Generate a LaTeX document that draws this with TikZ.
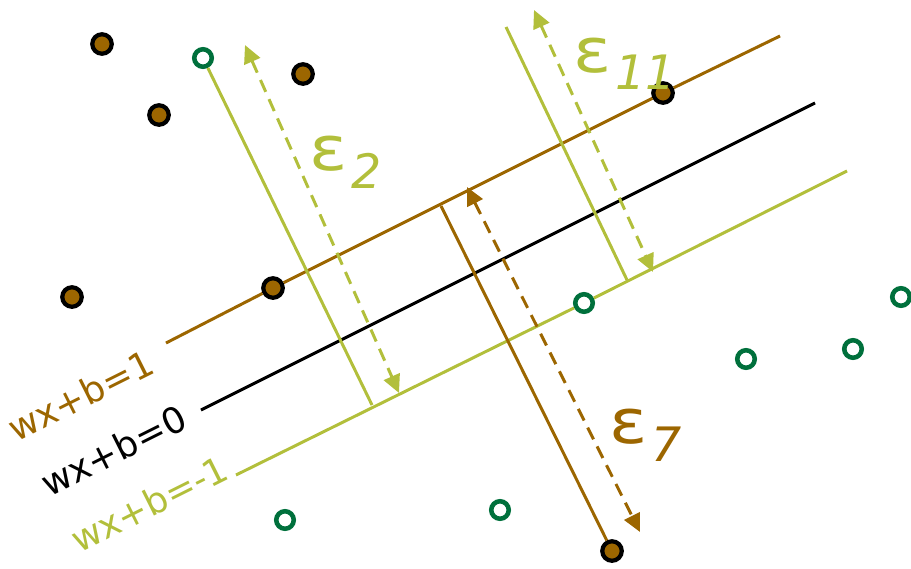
\documentclass[tikz,border=0pt]{standalone}
\usepackage{fontspec}
\newfontfamily\svmfont{DejaVu Sans}
\usepackage{xcolor}
\usetikzlibrary{arrows.meta, positioning}
\definecolor{posbrown}{RGB}{156,102,0}
\definecolor{neglime}{RGB}{178,191,59}
\definecolor{negdark}{RGB}{0,112,60}
\tikzset{
  posdot/.style={
    circle, draw=black, fill=posbrown,
    line width=2.4pt, minimum size=0.39cm, inner sep=0pt
  },
  negdot/.style={
    circle, draw=negdark, fill=white,
    line width=2.6pt, minimum size=0.35cm, inner sep=0pt
  },
  hyper/.style={line width=1.7pt},
  slack/.style={
    {Triangle[length=0.36cm,width=0.34cm]}-{Triangle[length=0.36cm,width=0.34cm]},
    line width=1.7pt, dash pattern=on 0.26cm off 0.16cm
  },
  hyplabel/.style={
    font=\svmfont\fontsize{20.5}{24}\selectfont,
    rotate=26.57, inner sep=0pt, anchor=base west
  },
  epslabel/.style={
    font=\svmfont\fontsize{35}{40}\selectfont,
    inner sep=0pt, anchor=base west
  },
}
\newcommand{\epssub}[1]{\scalebox{1.15}[1]{ε}\kern0.07cm\raisebox{-0.36cm}{\fontsize{27}{32}\selectfont\itshape #1}}

\begin{document}
\begin{tikzpicture}[x=0.02cm, y=-0.02cm]
  \useasboundingbox (0,0) rectangle (911,568);
  % points of the two classes
  \node[posdot] (p1) at (102,44) {};
  \node[posdot] (p2) at (159,115) {};
  \node[posdot] (p3) at (303,74) {};
  \node[posdot] (p4) at (72,297) {};
  \node[posdot] (p5) at (273,288) {};
  \node[posdot] (p6) at (663,93) {};
  \node[posdot] (p7) at (612,551) {};
  \node[negdot] (n1) at (203,58) {};
  \node[negdot] (n2) at (584,303) {};
  \node[negdot] (n3) at (746,359) {};
  \node[negdot] (n4) at (853,349) {};
  \node[negdot] (n5) at (901,297) {};
  \node[negdot] (n6) at (285,520) {};
  \node[negdot] (n7) at (500,510) {};
  % ends of the hyperplanes
  \coordinate (bs) at (166,343);
  \coordinate (be) at (780,36);
  \coordinate (zs) at (201,410);
  \coordinate (ze) at (815,103);
  \coordinate (gs) at (236,475);
  \coordinate (ge) at (847,171);
  \draw[hyper, posbrown] (bs) -- (p5) -- (p6) -- (be);
  \draw[hyper, black] (zs) -- (ze);
  \draw[hyper, neglime] (gs) -- (n2) -- (ge);
  % slack distances
  \coordinate (f2) at (372,405);
  \coordinate (t11) at (506,27);
  \coordinate (f11) at (627,280);
  \coordinate (f7) at (441,206);
  \draw[hyper, neglime] (n1) -- (f2);
  \draw[hyper, neglime] (t11) -- (f11);
  \draw[hyper, posbrown] (f7) -- (p7);
  \coordinate (a2) at (245,45);
  \coordinate (b2) at (399,393);
  \coordinate (a11) at (534,10);
  \coordinate (b11) at (653,272);
  \coordinate (a7) at (467,187);
  \coordinate (b7) at (640,532);
  \draw[slack, neglime] (a2) -- (b2);
  \draw[slack, neglime] (a11) -- (b11);
  \draw[slack, posbrown] (a7) -- (b7);
  % labels
  \node[hyplabel, text=posbrown] (lab1) at (16,443) {wx+b=1};
  \node[hyplabel, text=black] (lab0) at (49,498) {wx+b=0};
  \node[hyplabel, text=neglime] (labm) at (79,554) {wx+b=-1};
  \node[epslabel, text=neglime] (eps2) at (309,170) {\epssub{2}};
  \node[epslabel, text=neglime] (eps11) at (573,72) {\epssub{11}};
  \node[epslabel, text=posbrown] (eps7) at (609,443) {\epssub{7}};
\end{tikzpicture}
\end{document}
